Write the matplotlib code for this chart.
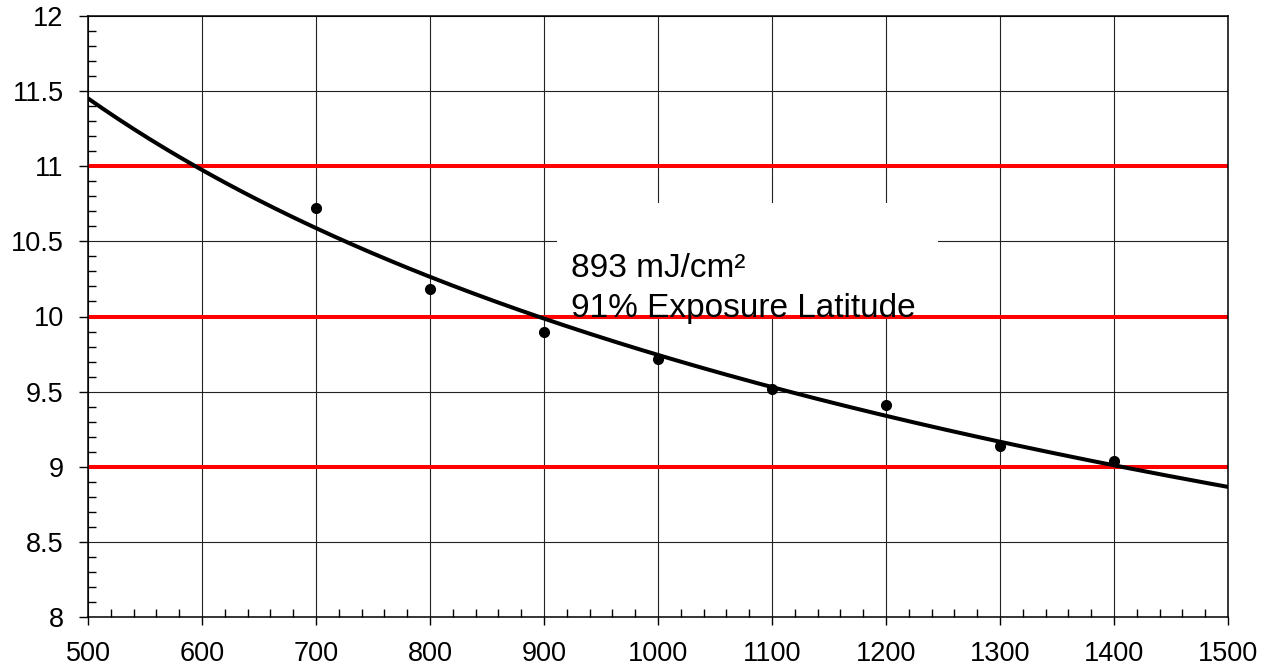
import numpy as np
import matplotlib
matplotlib.use("Agg")
import matplotlib.pyplot as plt
from matplotlib.ticker import MultipleLocator, FuncFormatter
from matplotlib.patches import Rectangle

plt.rcParams['font.family'] = ['Liberation Sans', 'DejaVu Sans']

# data
dose = [700, 800, 900, 1000, 1100, 1200, 1300, 1400]
cd = [10.72, 10.18, 9.90, 9.72, 9.52, 9.41, 9.14, 9.04]
spec_lines = [9, 10, 11]
label_line1 = "893 mJ/cm\u00b2"
label_line2 = "91% Exposure Latitude"

fig = plt.figure(figsize=(12.68, 6.66), dpi=100)
ax = fig.add_axes([88/1268, 49/666, 1140/1268, 601/666])

ax.set_xlim(500, 1500)
ax.set_ylim(8, 12)

# power-law trendline fitted to the data
b, ln_a = np.polyfit(np.log(dose), np.log(cd), 1)
xs = np.linspace(500, 1500, 300)
ys = np.exp(ln_a) * xs ** b

ax.grid(True, which='major', color='#222222', linewidth=0.8, zorder=0)
ax.set_axisbelow(True)

# white label box covering the grid
ax.add_patch(Rectangle((911, 10.0), 335, 0.755, facecolor='white',
                       edgecolor='none', zorder=1))

for v in spec_lines:
    ax.axhline(v, color='#ff0000', linewidth=2.9, zorder=2)

ax.plot(xs, ys, color='black', linewidth=2.9, zorder=3, solid_capstyle='butt')
ax.plot(dose, cd, 'o', color='black', markersize=7, zorder=4)

ax.text(924, 10.263, label_line1, fontsize=24, va='baseline', ha='left', zorder=5)
ax.text(924, 10.0, label_line2, fontsize=24, va='baseline', ha='left', zorder=5)

ax.xaxis.set_major_locator(MultipleLocator(100))
ax.xaxis.set_minor_locator(MultipleLocator(20))
ax.yaxis.set_major_locator(MultipleLocator(0.5))
ax.yaxis.set_minor_locator(MultipleLocator(0.1))
ax.yaxis.set_major_formatter(FuncFormatter(lambda v, p: f"{v:g}"))

ax.tick_params(axis='both', which='major', direction='out', labelsize=19.5,
               color='black', width=1)
ax.tick_params(axis='x', which='major', length=6, pad=11)
ax.tick_params(axis='y', which='major', length=6.5, pad=11)
ax.tick_params(axis='both', which='minor', direction='in', length=5.5, width=1,
               color='black')

for s in ax.spines.values():
    s.set_color('black')
    s.set_linewidth(1.1)

fig.savefig('out.png', dpi=100)
